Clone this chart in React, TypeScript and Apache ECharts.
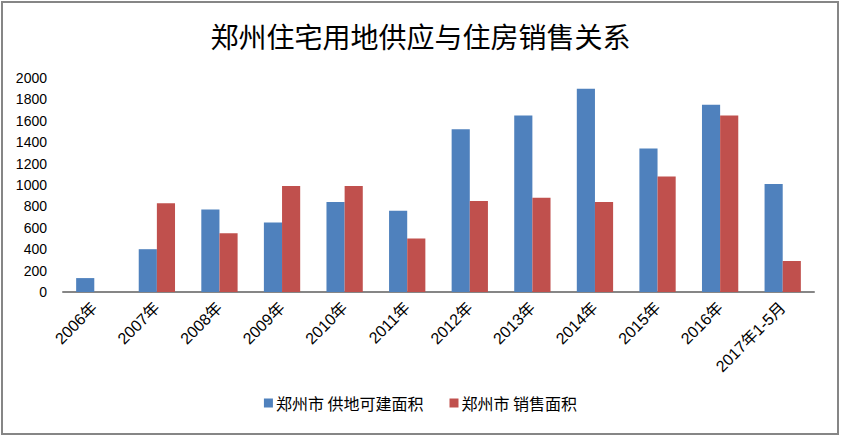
import React, { useEffect, useRef } from "react";
import * as echarts from "echarts";

const categories = ["2006年", "2007年", "2008年", "2009年", "2010年", "2011年", "2012年", "2013年", "2014年", "2015年", "2016年", "2017年1-5月"];
const supplyValues = [130, 400, 770, 650, 840, 760, 1520, 1650, 1900, 1340, 1750, 1010];
const salesValues = [null, 830, 550, 990, 990, 500, 850, 880, 840, 1080, 1650, 290];
const seriesNames = ["郑州市 供地可建面积", "郑州市 销售面积"];
const titleText = "郑州住宅用地供应与住房销售关系";

const FONT = "'Liberation Sans', 'Noto Sans CJK SC', sans-serif";
const CJK = "'Noto Sans CJK SC', sans-serif";

export default function App() {
  const ref = useRef<HTMLDivElement>(null);
  useEffect(() => {
    document.body.style.margin = "0";
    const chart = echarts.init(ref.current!, null, { renderer: "svg" });
    chart.setOption({
      animation: false,
      backgroundColor: "#ffffff",
      title: {
        text: titleText,
        left: "center",
        top: 17,
        textStyle: { fontFamily: CJK, fontSize: 28, fontWeight: "normal", color: "#000" },
      },
      graphic: [
        {
          type: "rect",
          shape: { x: 2, y: 2, width: 836, height: 432 },
          style: { fill: "none", stroke: "#868686", lineWidth: 2 },
          silent: true,
        },
      ],
      legend: {
        bottom: 21,
        left: "center",
        icon: "rect",
        itemWidth: 9,
        itemHeight: 9,
        itemGap: 26,
        textStyle: { fontFamily: CJK, fontSize: 16, color: "#000", padding: [0, 0, 0, -2] },
        data: seriesNames,
      },
      grid: { left: 63, right: 27, top: 78, bottom: 145, containLabel: false },
      xAxis: {
        type: "category",
        data: categories,
        axisLine: { lineStyle: { color: "#868686", width: 2 } },
        axisTick: { show: false },
        axisLabel: { rotate: 45, interval: 0, margin: 13, fontFamily: FONT, fontSize: 16, color: "#000" },
      },
      yAxis: {
        type: "value",
        min: 0,
        max: 2000,
        interval: 200,
        splitLine: { show: false },
        axisLine: { show: false },
        axisTick: { show: false },
        axisLabel: {
          fontFamily: FONT,
          fontSize: 14,
          color: "#000",
          margin: 16,
          formatter: (v: number) => String(v),
        },
      },
      series: [
        {
          name: seriesNames[0],
          type: "bar",
          data: supplyValues,
          itemStyle: { color: "#4F81BD" },
          barGap: "0%",
          barCategoryGap: "42%",
        },
        {
          name: seriesNames[1],
          type: "bar",
          data: salesValues,
          itemStyle: { color: "#C0504D" },
          barGap: "0%",
          barCategoryGap: "42%",
        },
      ],
    });
    return () => chart.dispose();
  }, []);
  return <div ref={ref} style={{ width: 841, height: 437 }} />;
}
